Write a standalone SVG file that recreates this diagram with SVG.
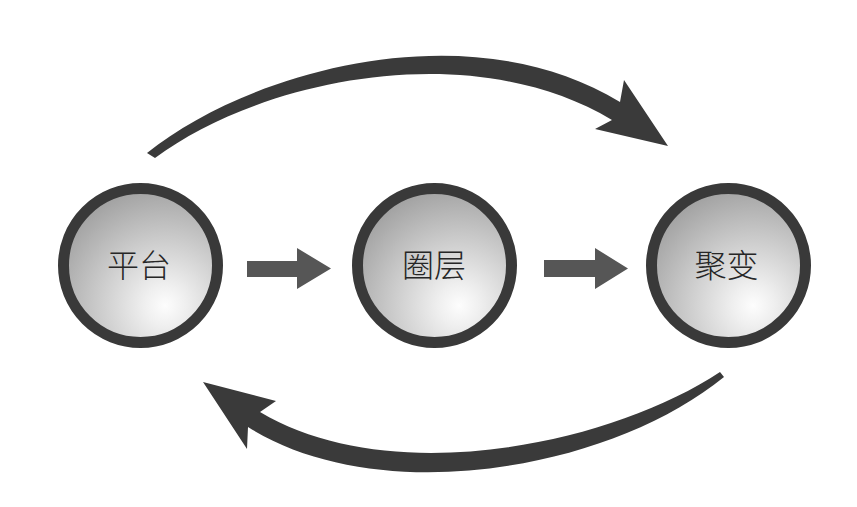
<svg xmlns="http://www.w3.org/2000/svg" width="857" height="507" viewBox="0 0 857 507">
<defs>
<radialGradient id="g" cx="0.66" cy="0.76" r="0.9" fx="0.66" fy="0.76">
<stop offset="0" stop-color="#fdfdfd"/>
<stop offset="0.15" stop-color="#efefef"/>
<stop offset="1" stop-color="#939393"/>
</radialGradient>
<style>
.ring{fill:url(#g);stroke:#393939;stroke-width:11}
.lbl{font-family:"Noto Sans CJK SC","Noto Sans",sans-serif;font-size:32px;font-weight:300;fill:#262626;text-anchor:middle}
.big{fill:#3a3a3a}
.small{fill:#565656}
</style>
</defs>
<rect width="857" height="507" fill="#fff"/>
<g id="connectors">
<path class="big" d="M147,153 C250,70 470,10 620,102 L624,80 L668,146 L595,129 L612,120 C470,35 260,80 155,158 Z"/>
<path class="big" d="M724,377 C610,470 380,510 248,427 L247,449 L203,382 L276,401 L260,412 C390,490 610,445 720,372 Z"/>
<path class="small" d="M247,261 L297,261 L297,248 L331,268.5 L297,289 L297,277 L247,277 Z"/>
<path class="small" d="M544,260 L595,260 L595,248 L628,268.5 L595,289 L595,277 L544,277 Z"/>
</g>
<g id="node-pingtai">
<circle class="ring" cx="140.5" cy="265.5" r="77"/>
<text class="lbl" x="139" y="277">平台</text>
</g>
<g id="node-quanceng">
<circle class="ring" cx="434.5" cy="265.5" r="77"/>
<text class="lbl" x="434" y="277">圈层</text>
</g>
<g id="node-jubian">
<circle class="ring" cx="728.5" cy="265.5" r="77"/>
<text class="lbl" x="726.5" y="277">聚变</text>
</g>
</svg>
